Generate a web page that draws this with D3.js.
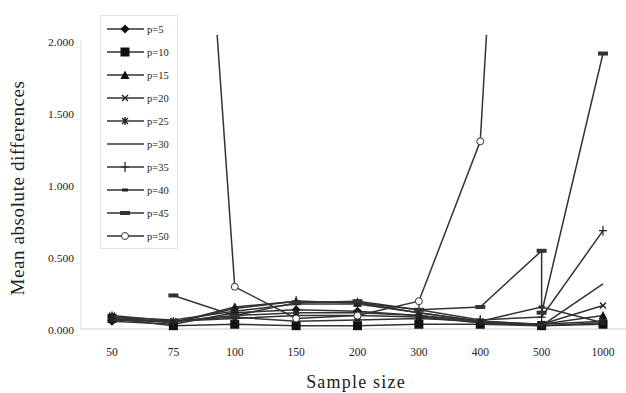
<!DOCTYPE html>
<html>
<head>
<meta charset="utf-8">
<script src="https://cdn.jsdelivr.net/npm/d3@7"></script>
<style>
  body { margin: 0; background: #fff; }
  text { font-family: "Liberation Serif", "Times New Roman", serif; fill: #222; }
</style>
</head>
<body>
<div id="chart"></div>
<script>
// sample sizes on the x axis
const sampleSizes = ["50", "75", "100", "150", "200", "300", "400", "500", "1000"];
const yTicks = [0, 0.5, 1.0, 1.5, 2.0];

// mean absolute differences, one array per p (null = no point)
const p5  = [0.06, 0.04, 0.12, 0.14, 0.13, 0.10, 0.05, 0.03, 0.05];
const p10 = [0.08, 0.03, 0.04, 0.03, 0.03, 0.04, 0.04, 0.03, 0.04];
const p15 = [0.09, 0.05, 0.16, 0.20, 0.19, 0.12, 0.06, 0.04, 0.10];
const p20 = [0.07, 0.06, 0.08, 0.10, 0.10, 0.09, 0.05, 0.04, 0.17];
const p25 = [0.10, 0.06, 0.10, 0.12, 0.12, 0.10, 0.06, 0.04, 0.06];
const p30 = [0.09, 0.07, 0.13, 0.18, 0.18, 0.12, 0.06, 0.03, 0.32];
const p35 = [0.08, 0.05, 0.15, 0.20, 0.19, 0.14, 0.07, 0.09, 0.69];
const p40 = [0.07, 0.06, 0.09, 0.06, 0.07, 0.08, 0.06, 0.16, 0.05];
// p=45 has two readings at n=500 (drawn as a vertical drop)
const p45 = [[null, "50"], [0.24, "75"], [0.10, "100"], [0.19, "150"], [0.20, "200"],
             [0.14, "300"], [0.16, "400"], [0.55, "500"], [0.12, "500"], [1.92, "1000"]];
const p50 = [7.0, 6.4, 0.30, 0.08, 0.10, 0.20, 1.31, 8.6, 9.0];

const seriesNames = ["p=5", "p=10", "p=15", "p=20", "p=25", "p=30", "p=35", "p=40", "p=45", "p=50"];
const seriesValues = [p5, p10, p15, p20, p25, p30, p35, p40, p45, p50];
const markerKinds = ["diamond", "square", "triangle", "cross", "star", "none", "plus", "dash", "bar", "circle"];

const width = 626, height = 393;
const plotTop = 35, plotBottom = 330, plotLeft = 81, plotRight = 626;

const svg = d3.select("#chart").append("svg")
  .attr("width", width).attr("height", height);

const x = d3.scalePoint().domain(sampleSizes).range([112, 603]);
const y = d3.scaleLinear().domain([0, 2]).range([plotBottom, 42]);

svg.append("defs").append("clipPath").attr("id", "clip")
  .append("rect").attr("x", plotLeft).attr("y", plotTop)
  .attr("width", plotRight - plotLeft).attr("height", plotBottom - plotTop + 10);

// axes lines
svg.append("line").attr("x1", plotLeft).attr("x2", plotLeft)
  .attr("y1", 40).attr("y2", plotBottom).attr("stroke", "#ddd");
svg.append("line").attr("x1", plotLeft).attr("x2", plotRight)
  .attr("y1", plotBottom - 1).attr("y2", plotBottom - 1).attr("stroke", "#ccc");

// y tick labels
svg.selectAll(".ytick").data(yTicks).enter().append("text")
  .attr("x", 74).attr("y", d => y(d) + 3.5)
  .attr("text-anchor", "end").attr("font-size", 11)
  .attr("textLength", 26).attr("lengthAdjust", "spacingAndGlyphs")
  .text(d => d.toFixed(3));

// x tick labels
svg.selectAll(".xtick").data(sampleSizes).enter().append("text")
  .attr("x", d => x(d)).attr("y", 356)
  .attr("text-anchor", "middle").attr("font-size", 11.5)
  .text(d => d);

// axis titles
svg.append("text").attr("x", 356).attr("y", 388)
  .attr("text-anchor", "middle").attr("font-size", 18)
  .attr("letter-spacing", 1.2)
  .text("Sample size");
svg.append("text")
  .attr("transform", `translate(24,${188}) rotate(-90)`)
  .attr("text-anchor", "middle").attr("font-size", 19)
  .attr("letter-spacing", 0.6)
  .text("Mean absolute differences");

function toPoints(vals) {
  if (Array.isArray(vals[0])) return vals.map(v => ({ x: v[1], v: v[0] }));
  return vals.map((v, i) => ({ x: sampleSizes[i], v: v }));
}

const line = d3.line()
  .defined(d => d.v != null)
  .x(d => x(d.x)).y(d => y(d.v));

function drawMarker(g, kind, px, py) {
  const k = g.append("g").attr("transform", `translate(${px},${py})`);
  if (kind === "diamond") {
    k.append("path").attr("d", "M0,-4.5L4.5,0L0,4.5L-4.5,0Z").attr("fill", "#111");
  } else if (kind === "square") {
    k.append("rect").attr("x", -4.5).attr("y", -4.5).attr("width", 9).attr("height", 9).attr("fill", "#111");
  } else if (kind === "triangle") {
    k.append("path").attr("d", "M0,-4.5L4.5,4L-4.5,4Z").attr("fill", "#111");
  } else if (kind === "cross") {
    k.append("path").attr("d", "M-3,-3L3,3M-3,3L3,-3").attr("stroke", "#222").attr("stroke-width", 1.4);
  } else if (kind === "star") {
    k.append("path").attr("d", "M-3,-3L3,3M-3,3L3,-3M0,-4L0,4").attr("stroke", "#222").attr("stroke-width", 1.4);
  } else if (kind === "plus") {
    k.append("path").attr("d", "M0,-5L0,5M-4,0L4,0").attr("stroke", "#222").attr("stroke-width", 1.2);
  } else if (kind === "dash") {
    k.append("rect").attr("x", -3).attr("y", -1.5).attr("width", 6).attr("height", 3).attr("fill", "#222");
  } else if (kind === "bar") {
    k.append("rect").attr("x", -5).attr("y", -2).attr("width", 10).attr("height", 4).attr("fill", "#333");
  } else if (kind === "circle") {
    k.append("circle").attr("r", 3.5).attr("fill", "#fff").attr("stroke", "#333").attr("stroke-width", 1);
  }
}

const plot = svg.append("g").attr("clip-path", "url(#clip)");
seriesValues.forEach((vals, i) => {
  const pts = toPoints(vals);
  plot.append("path").datum(pts)
    .attr("d", line).attr("fill", "none")
    .attr("stroke", "#333").attr("stroke-width", 1.5);
  pts.filter(d => d.v != null && d.v <= 2.05).forEach(d => {
    drawMarker(plot, markerKinds[i], x(d.x), y(d.v));
  });
});

// legend
const legend = svg.append("g");
legend.append("rect").attr("x", 100.5).attr("y", 15.5).attr("width", 77).attr("height", 233)
  .attr("fill", "#fff").attr("stroke", "#e3e3e3");
seriesNames.forEach((name, i) => {
  const ly = 29 + i * 23;
  legend.append("line").attr("x1", 107).attr("x2", 144).attr("y1", ly).attr("y2", ly)
    .attr("stroke", "#333").attr("stroke-width", 1.5);
  drawMarker(legend, markerKinds[i], 125, ly);
  legend.append("text").attr("x", 147).attr("y", ly + 3.5)
    .attr("font-size", 10.5).text(name);
});
</script>
</body>
</html>
